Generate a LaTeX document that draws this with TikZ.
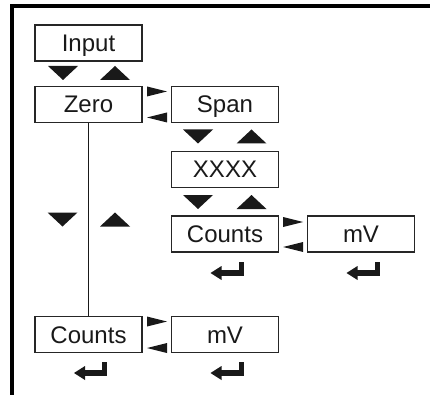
\documentclass[tikz,border=0pt]{standalone}
\usepackage{fontspec}
\setmainfont{Liberation Sans}
\begin{document}
\begin{tikzpicture}[x=1pt,y=-1pt,
  box/.style={draw=black!85, line width=1.9pt, inner sep=0pt, minimum width=107pt, minimum height=36pt,
    text height=17pt, text depth=0pt, text=black!90, font=\fontsize{24}{28}\selectfont},
  frameline/.style={line width=4pt, line join=miter},
  link/.style={line width=1.9pt, draw=black!90},
  downtri/.pic={\fill[black!90] (-15,0) -- (15,0) -- (0,14) -- cycle;},
  uptri/.pic={\fill[black!90] (-15,14) -- (15,14) -- (0,0) -- cycle;},
  rtri/.pic={\fill[black!90] (0,-5) -- (0,5) -- (20,0) -- cycle;},
  ltri/.pic={\fill[black!90] (0,-5) -- (0,5) -- (-20,0) -- cycle;},
  enterkey/.pic={\fill[black!90] (-14.5,0) -- (-3.5,-7) -- (-3.5,7) -- cycle;
     \fill[black!90] (-4,-3) rectangle (18.5,3);
     \fill[black!90] (13.5,-11) rectangle (18.5,3);}
]
\useasboundingbox (0,0) rectangle (430,395);
\draw[frameline] (12,396) -- (12,6.5) -- (431,6.5);

\node[box] (input) at (88.5,43) {Input};
\node[box] (zero) at (88.5,104.5) {Zero};
\node[box] (span) at (225,104.5) {Span};
\node[box] (xxxx) at (225,169.5) {XXXX};
\node[box] (counts1) at (225,234) {Counts};
\node[box] (mv1) at (361,234) {mV};
\node[box] (counts2) at (88.5,334.5) {Counts};
\node[box] (mv2) at (225,334.5) {mV};

\draw[link] (zero.south) -- (counts2.north);

% up/down triangles
\pic at (63,66) {downtri};
\pic at (115,66) {uptri};
\pic at (198,129.5) {downtri};
\pic at (251.5,129.5) {uptri};
\pic at (198,195) {downtri};
\pic at (251.5,195) {uptri};
\pic at (62.5,212.5) {downtri};
\pic at (115,212.5) {uptri};

% left/right triangles
\pic at (147,91.5) {rtri};
\pic at (167,117.5) {ltri};
\pic at (283,222) {rtri};
\pic at (303,247) {ltri};
\pic at (147,321.5) {rtri};
\pic at (167,348) {ltri};

% enter keys
\pic at (88.5,373) {enterkey};
\pic at (225,373) {enterkey};
\pic at (225,273) {enterkey};
\pic at (361,273) {enterkey};
\end{tikzpicture}
\end{document}
